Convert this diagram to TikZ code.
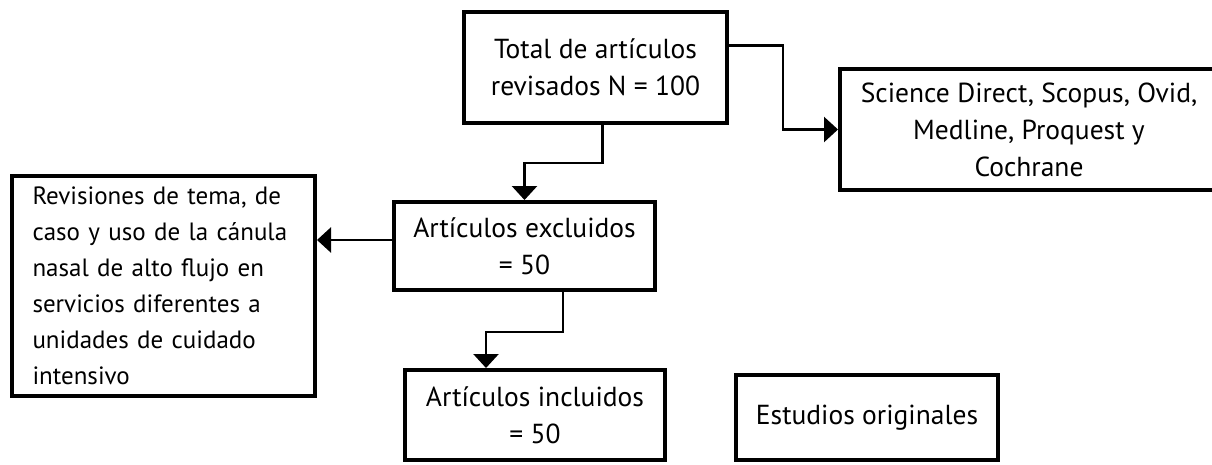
\documentclass[tikz,border=0pt]{standalone}
\usepackage{fontspec}
\setmainfont{PT Sans}
\usetikzlibrary{arrows.meta}

\tikzstyle{bx}=[draw,line width=4pt,inner sep=0pt,align=center,font=\fontsize{27.5}{37}\selectfont]
\tikzstyle{conn}=[line width=2.6pt,-{Triangle[length=14pt,width=25pt]}]

\begin{document}
\begin{tikzpicture}[x=1pt,y=-1pt]
        \useasboundingbox (0,0) rectangle (1212,464);

        \draw (595.5,67.5) node[bx,minimum width=263pt,minimum height=111pt](1){Total de artículos\\revisados N = 100};
        \draw (1029,129.5) node[bx,minimum width=378pt,minimum height=121pt](2){Science Direct, Scopus, Ovid,\\Medline, Proquest y\\Cochrane};
        \draw (163.5,286) node[bx,minimum width=303pt,minimum height=220pt,text width=262pt,align=left,font=\fontsize{25}{36}\selectfont](3){Revisiones de tema, de\\caso y uso de la cánula\\nasal de alto flujo en\\servicios diferentes a\\unidades de cuidado\\intensivo};
        \draw (524.5,246) node[bx,minimum width=261pt,minimum height=88pt](4){Artículos excluidos\\= 50};
        \draw (535,415) node[bx,minimum width=260pt,minimum height=90pt](5){Artículos incluidos\\= 50};
        \draw (867,417.5) node[bx,minimum width=262pt,minimum height=85pt](6){Estudios originales};
        %
        \draw[conn] ([yshift=22pt]1.east) -- ++(54,0) |- (2.west);
        \draw[conn] ([xshift=7pt]1.south) -- ++(0,38) -| (4.north);
        \draw[conn] ([yshift=6pt]4.west) -- ([yshift=6pt]4.west -| 3.east);
        \draw[conn] ([xshift=38.5pt]4.south) -- ++(0,40) -| ([xshift=-49pt]5.north);
\end{tikzpicture}
\end{document}
